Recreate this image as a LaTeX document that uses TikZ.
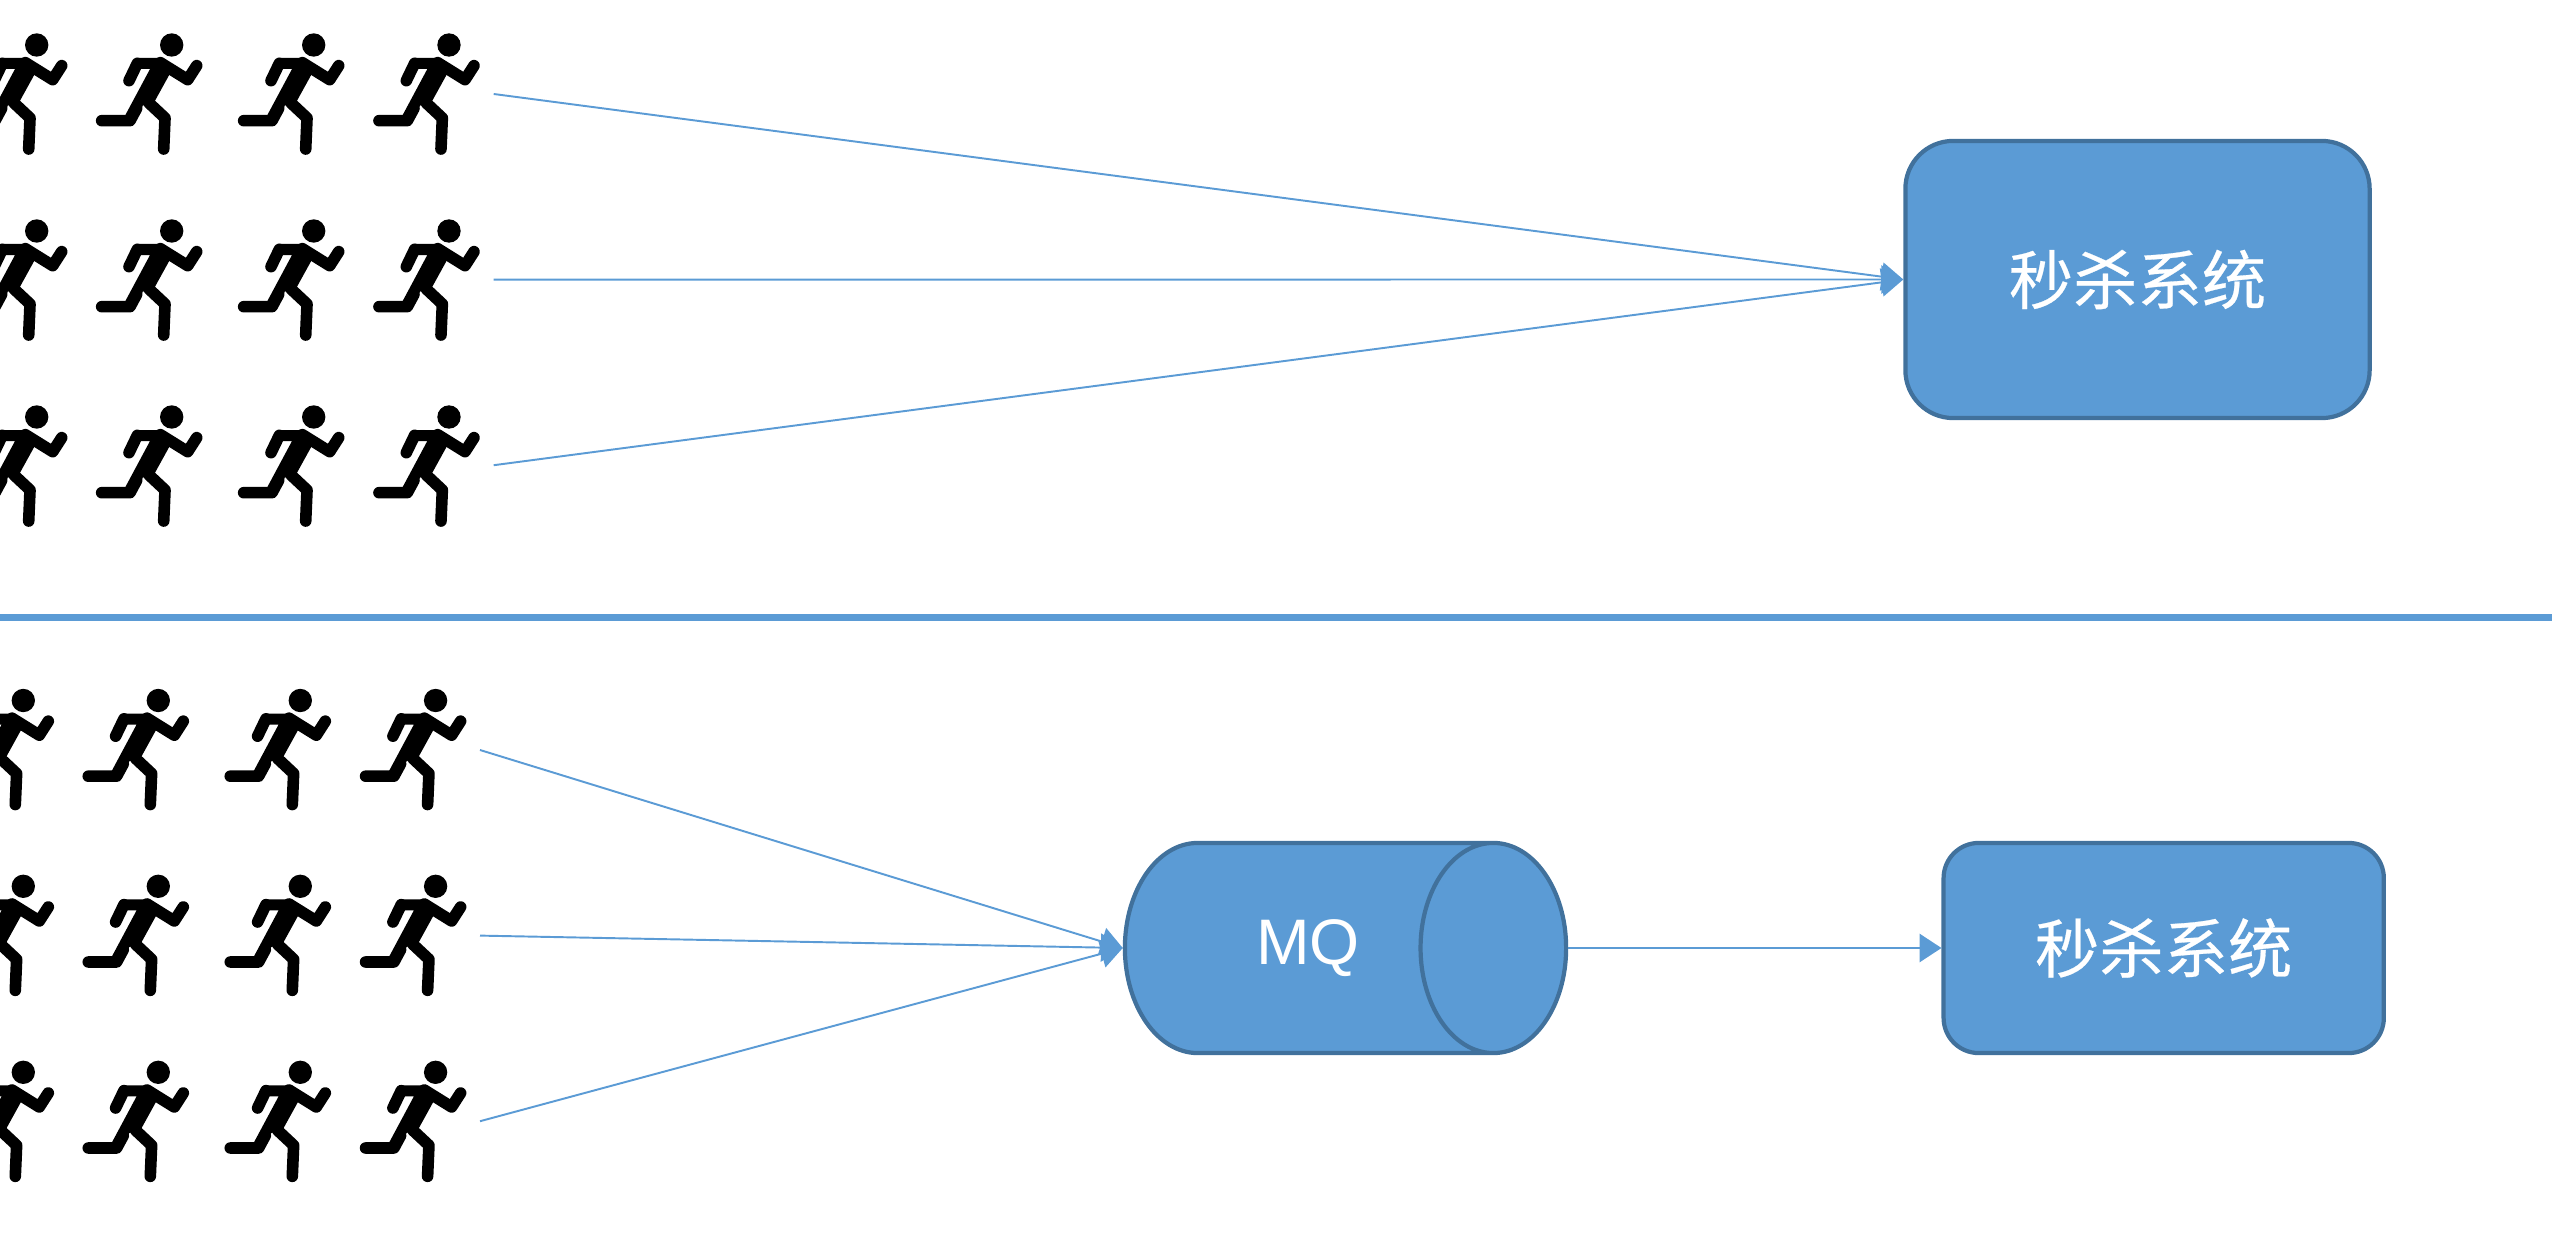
\documentclass[tikz,border=0pt]{standalone}
\usepackage{fontspec}
\setmainfont{Liberation Sans}
\newfontfamily\cjk[FakeBold=0.4]{Noto Sans CJK SC}
\usetikzlibrary{positioning,arrows.meta,shapes.geometric}

\definecolor{fillblue}{HTML}{5B9BD5}
\definecolor{edgeblue}{HTML}{41719C}

\tikzset{
	runner/.pic={
		\begin{scope}[x=0.03333mm,y=-0.03333mm,line width=3.3pt,line cap=round,line join=round]
			\fill (0,0) circle (35);
			\fill (-105,39) -- (-25,39) -- (-7,89) -- (-50,167) -- (-87,182) -- (-115,239) -- (-140,212) -- (-65,72) -- (-93,72) -- cycle;
			\draw (-103,55) -- (-128,107);
			\draw (-34,53) -- (48,104) -- (75,62);
			\draw (-68,174) -- (-20,219) -- (-24,312);
			\draw (-210,227) -- (-125,227) -- (-105,190);
		\end{scope}
	},
	sysbox/.style={draw=edgeblue,fill=fillblue,line width=1.2pt,rounded corners=#1,text=white,font=\cjk\fontsize{18.3pt}{22pt}\selectfont,inner sep=0pt},
	queue/.style={cylinder,draw=edgeblue,fill=fillblue,line width=1.2pt,text=white,font=\fontsize{18.3pt}{22pt}\selectfont,inner sep=0pt,shape aspect=2.55},
	link/.style={draw=fillblue,line width=0.55pt,-{Triangle[length=6.2pt,width=8pt]}},
}

\begin{document}
\begin{tikzpicture}[x=0.01cm,y=-0.01cm]
	\clip (0,0) rectangle (2552,1240);

	\foreach \y in {45,231,417} {
		\foreach \x in {36.7,171.7,313.7,449} {
			\pic at (\x,\y) {runner};
		}
	}
	\foreach \y in {700.5,886.3,1072.3} {
		\foreach \x in {23.3,158.3,300.3,435.6} {
			\pic at (\x,\y) {runner};
		}
	}

	\node [sysbox=13.6pt,minimum width=4.64cm,minimum height=2.77cm] (top) at (2137.5,279.5) {秒杀系统};
	\coordinate (a) at (493.7,94);
	\coordinate [below=1.855cm of a] (b);
	\coordinate [below=1.855cm of b] (c);

	\draw [link] (a) -- (top.west);
	\draw [link] (b) -- (top.west);
	\draw [link] (c) -- (top.west);

	\coordinate (left) at (0,617.5);
	\coordinate (right) at (2552,617.5);
	\draw [fillblue,line width=2pt] (left) -- (right);

	\node [queue,minimum width=2.1cm,minimum height=4.41cm,anchor=shape center] (mq) at (1345.5,948) {\raisebox{-1.2pt}{MQ}};
	\node [sysbox=10pt,minimum width=4.4cm,minimum height=2.1cm,right=3.73cm of mq.east] (bottom) {秒杀系统};
	\coordinate (d) at (480,750);
	\coordinate [below=1.855cm of d] (e);
	\coordinate [below=1.855cm of e] (f);

	\draw [link] (d) -- (mq.west);
	\draw [link] (e) -- (mq.west);
	\draw [link] (f) -- (mq.west);
	\draw [link] (mq.east) -- (bottom);
\end{tikzpicture}
\end{document}
